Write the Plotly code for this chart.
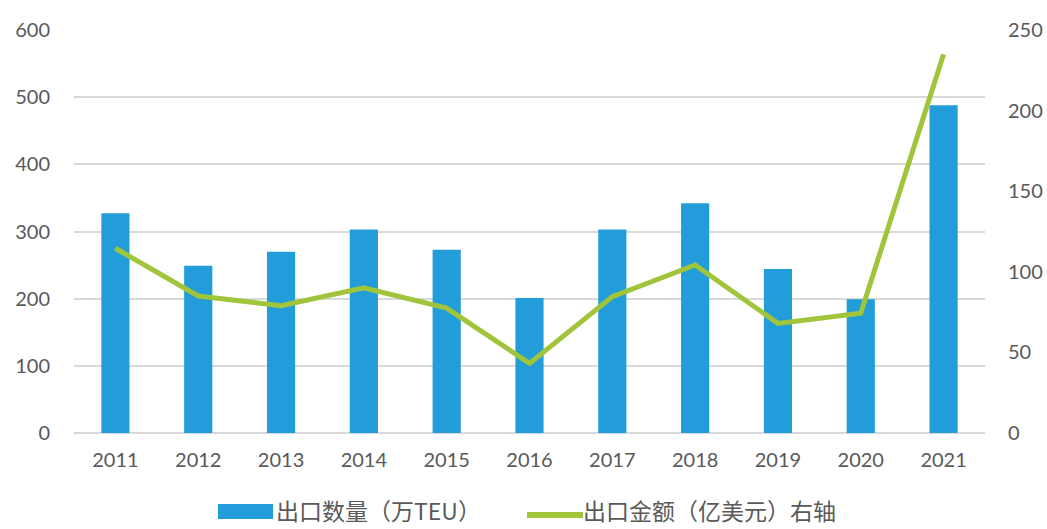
import plotly.graph_objects as go

years = ["2011", "2012", "2013", "2014", "2015", "2016", "2017", "2018", "2019", "2020", "2021"]
export_qty = [327, 249, 270, 303, 273, 201, 303, 342, 244, 199, 488]   # 万TEU (left axis)
export_val = [114.6, 85, 79, 90, 77.5, 43.2, 84.6, 104.2, 68, 74.3, 235]  # 亿美元 (right axis)
left_ticks = [0, 100, 200, 300, 400, 500, 600]
right_ticks = [0, 50, 100, 150, 200, 250]
name_bar = "出口数量（万TEU）"
name_line = "出口金额（亿美元）右轴"

BLUE = "#229DD9"
GREEN = "#A0C43A"
TXT = "#595959"
GRID = "#D9D9D9"
NUMFONT = "Lato, Open Sans, sans-serif"
CJK = "Noto Sans CJK SC"

fig = go.Figure()
fig.add_trace(go.Bar(x=years, y=export_qty, name=name_bar, marker=dict(color=BLUE, line=dict(width=0)),
                     width=0.34, yaxis="y", showlegend=False))
fig.add_trace(go.Scatter(x=years, y=export_val, name=name_line, mode="lines",
                         line=dict(color=GREEN, width=5), yaxis="y2", showlegend=False))

L, R, T, B = 74, 62, 30, 96
W, H = 1047, 529
pw = W - L - R
ph = H - T - B

def px(x):
    return (x - L) / pw

def py(y):
    return (H - B - y) / ph

fig.update_layout(
    width=W, height=H,
    margin=dict(l=L, r=R, t=T, b=B, autoexpand=False),
    paper_bgcolor="white", plot_bgcolor="white",
    xaxis=dict(type="category", showgrid=False, showline=False, ticks="", automargin=False,
               tickfont=dict(family=NUMFONT, size=20, color=TXT), ticklabelstandoff=13),
    yaxis=dict(range=[0, 600], tickvals=left_ticks, showgrid=True, gridcolor=GRID, gridwidth=1.5,
               zeroline=True, zerolinecolor=GRID, zerolinewidth=1.5, showline=False, ticks="",
               automargin=False,
               tickfont=dict(family=NUMFONT, size=20, color=TXT), ticklabelstandoff=23),
    yaxis2=dict(range=[0, 250], tickvals=right_ticks, overlaying="y", side="right", showgrid=False,
                zeroline=False, showline=False, ticks="", automargin=False,
                tickfont=dict(family=NUMFONT, size=20, color=TXT), ticklabelstandoff=22),
    showlegend=False,
)

# custom legend (paper coordinates)
fig.add_shape(type="rect", xref="paper", yref="paper", x0=px(218), x1=px(273), y0=py(519), y1=py(504),
              fillcolor=BLUE, line=dict(width=0))
fig.add_shape(type="line", xref="paper", yref="paper", x0=px(527), x1=px(583), y0=py(515), y1=py(515),
              line=dict(color=GREEN, width=6))
fig.add_annotation(xref="paper", yref="paper", x=px(274), y=py(528.5), xanchor="left", yanchor="bottom",
                   text=name_bar, showarrow=False, font=dict(family=CJK, size=23, color=TXT))
fig.add_annotation(xref="paper", yref="paper", x=px(581), y=py(528.5), xanchor="left", yanchor="bottom",
                   text=name_line, showarrow=False, font=dict(family=CJK, size=23, color=TXT))

fig.write_html("out.html", config={"displayModeBar": False},
               post_script="document.body.style.margin='0';document.body.style.overflow='hidden';")
